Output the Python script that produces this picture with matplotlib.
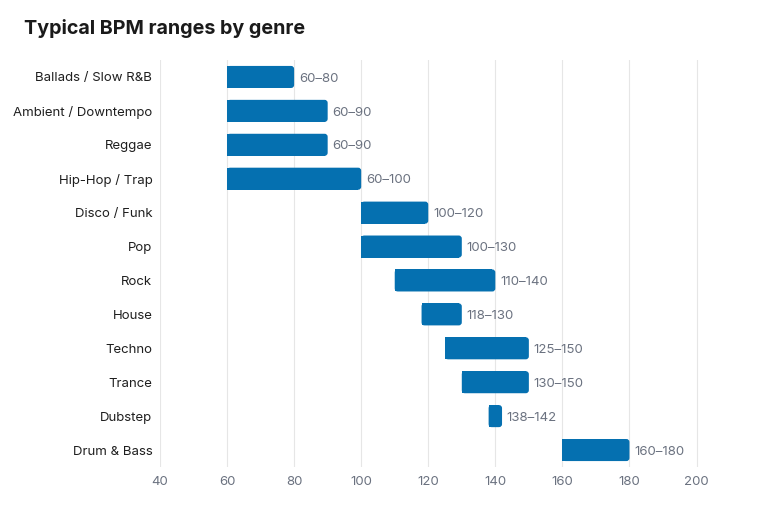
import matplotlib.pyplot as plt
from matplotlib.patches import FancyBboxPatch

plt.rcParams['font.family'] = ['Inter', 'DejaVu Sans']

genres = ['Ballads / Slow R&B', 'Ambient / Downtempo', 'Reggae', 'Hip-Hop / Trap',
          'Disco / Funk', 'Pop', 'Rock', 'House', 'Techno', 'Trance', 'Dubstep',
          'Drum & Bass']
bpm_low = [60, 60, 60, 60, 100, 100, 110, 118, 125, 130, 138, 160]
bpm_high = [80, 90, 90, 100, 120, 130, 140, 130, 150, 150, 142, 180]
xticks = [40, 60, 80, 100, 120, 140, 160, 180, 200]

color = '#0570b0'
bar_h = 0.65
r = 0.9

fig = plt.figure(figsize=(7.6, 5.2), dpi=100)
ax = fig.add_axes([160 / 760, 1 - 467 / 520, (720 - 160) / 760, 407 / 520])

ypos = list(range(len(genres)))
for y, lo, hi in zip(ypos, bpm_low, bpm_high):
    ax.barh(y, hi - lo - r, left=lo, height=bar_h, color=color, zorder=2)
    ax.add_patch(FancyBboxPatch((lo, y - bar_h / 2), hi - lo, bar_h,
                                boxstyle=f'round,pad=0,rounding_size={r}',
                                mutation_aspect=0.1, facecolor=color,
                                edgecolor='none', zorder=2))
    ax.text(hi + 1.4, y + 0.05, f'{lo}\u2013{hi}', va='center', ha='left',
            fontsize=9.5, color='#6b7280')

ax.set_xlim(40, 207)
ax.set_ylim(11.5, -0.5)
ax.set_yticks(ypos)
ax.set_yticklabels(genres, fontsize=9.5, color='#1f1f1f')
ax.set_xticks(xticks)
ax.set_xticklabels([str(t) for t in xticks], fontsize=9.5, color='#6b7280')
ax.tick_params(axis='x', length=0, pad=6.5)
ax.tick_params(axis='y', length=0, pad=5.5)
ax.grid(axis='x', color='#e6e6e6', linewidth=0.8, zorder=0)
ax.set_axisbelow(True)
for s in ax.spines.values():
    s.set_visible(False)

fig.text(24 / 760, 1 - 28 / 520, 'Typical BPM ranges by genre', fontsize=14.2,
         fontweight='bold', color='#1a1a1a', va='center', ha='left')

fig.savefig('out.png', dpi=100)
